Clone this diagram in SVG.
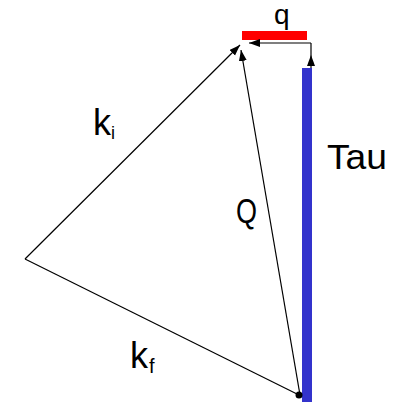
<svg xmlns="http://www.w3.org/2000/svg" width="397" height="402" viewBox="0 0 397 402">
<style>
.v{stroke:#000;stroke-width:1.2;fill:none}
.lbl{font-family:"Liberation Sans",Arial,sans-serif;fill:#000}
</style>
<defs>
<marker id="ah" markerUnits="userSpaceOnUse" markerWidth="12" markerHeight="10" refX="11" refY="4" orient="auto">
<path d="M0,0 L11,4 L0,8 Z" fill="#000"/>
</marker>
</defs>
<rect width="397" height="402" fill="#fff"/>
<g id="q-bar"><rect x="242" y="31" width="65" height="9" fill="#ff0000"/></g>
<g id="tau-bar"><rect x="302" y="68" width="10" height="334" fill="#3333cc"/></g>
<g id="connectors">
<line class="v" x1="25" y1="259" x2="240" y2="45" marker-end="url(#ah)"/>
<line class="v" x1="300" y1="395" x2="241" y2="50" marker-end="url(#ah)"/>
<line class="v" x1="25" y1="259" x2="299" y2="395"/>
<circle cx="299" cy="395" r="3.5" fill="#000"/>
<line class="v" x1="311" y1="43" x2="249" y2="43" marker-end="url(#ah)"/>
<line class="v" x1="311" y1="68" x2="311" y2="55" marker-end="url(#ah)"/>
<line class="v" x1="311" y1="55" x2="311" y2="43"/>
</g>
<g id="labels">
<text class="lbl" x="274" y="24" font-size="28">q</text>
<text class="lbl" x="93" y="135" font-size="36">k</text>
<text class="lbl" x="111" y="139" font-size="18">i</text>
<text class="lbl" x="236" y="223" font-size="35" textLength="21" lengthAdjust="spacingAndGlyphs">Q</text>
<text class="lbl" x="327" y="169" font-size="35" textLength="60" lengthAdjust="spacingAndGlyphs">Tau</text>
<text class="lbl" x="130" y="368" font-size="36">k</text>
<text class="lbl" x="149" y="373" font-size="20">f</text>
</g>
</svg>
